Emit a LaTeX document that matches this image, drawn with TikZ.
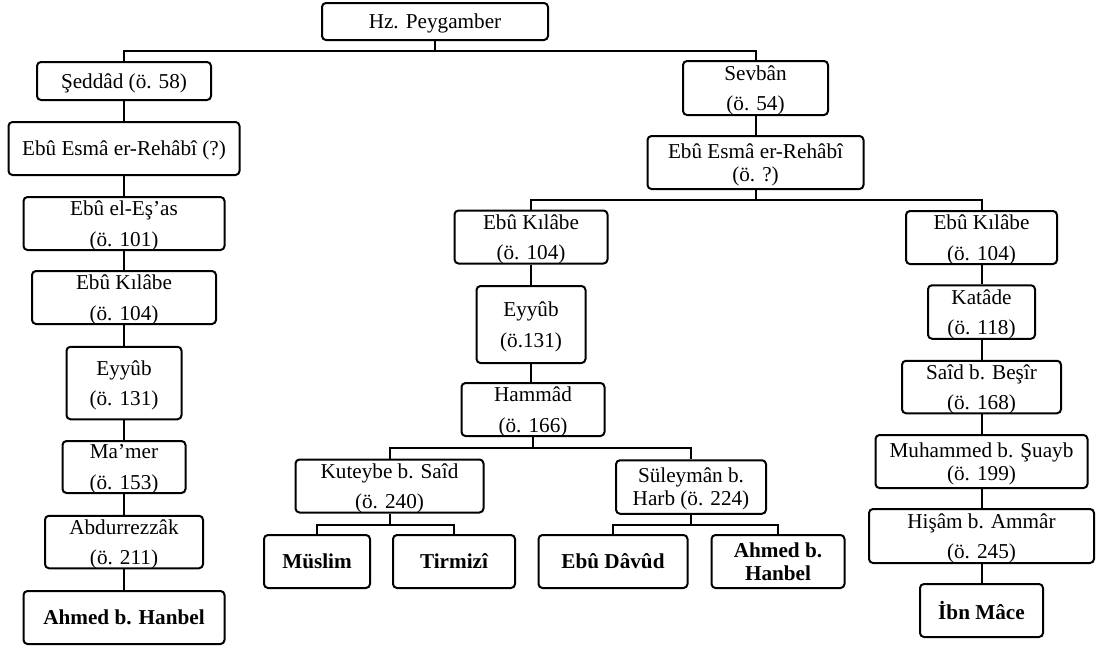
\documentclass[tikz,border=0pt]{standalone}
\usepackage{fontspec}
\setmainfont{Liberation Serif}
\tikzset{
  px/.style={x=0.75pt,y=-0.75pt},
  box/.style={draw, line width=1.5pt, rounded corners=3pt, inner sep=0pt, align=center,
              text depth=0pt, fill=white},
  loose/.style={font=\fontsize{15.9}{23}\selectfont},
  tight/.style={font=\fontsize{15.9}{17.2}\selectfont},
  heavy/.style={font=\fontsize{15.9}{17.2}\selectfont\bfseries},
  sz/.style 2 args={minimum width=#1*0.75pt, minimum height=#2*0.75pt},
  link/.style={line width=1.5pt},
}
\begin{document}
\begin{tikzpicture}[px]
\useasboundingbox (0,0) rectangle (1096,646);
% horizontal bus levels
\coordinate (busA) at (0,51);
\coordinate (busB) at (0,200);
\coordinate (busC) at (0,448);
\coordinate (busD) at (0,525);

% root
\node[box,loose,sz={226}{37}] (hz) at (435,21.5) {Hz. Peygamber};

% left chain
\node[box,loose,sz={174}{38}]   (sed)   at (124,81)    {Şeddâd (ö. 58)};
\node[box,loose,sz={231}{53}]   (esmaA) at (124,148.5) {Ebû Esmâ er-Rehâbî (?)};
\node[box,loose,sz={201}{53}]   (eshas) at (124,223.5) {Ebû el-Eş’as\\(ö. 101)};
\node[box,loose,sz={184}{53}]   (kilA)  at (124,297.5) {Ebû Kılâbe\\(ö. 104)};
\node[box,loose,sz={115}{72.5}] (eyyA)  at (124,383)   {Eyyûb\\(ö. 131)};
\node[box,loose,sz={123}{52}]   (mamer) at (124,467)   {Ma’mer\\(ö. 153)};
\node[box,loose,sz={158}{52.5}] (abd)   at (124,542)   {Abdurrezzâk\\(ö. 211)};
\node[box,heavy,sz={201}{53}]   (ahmA)  at (124,617.5) {Ahmed b. Hanbel};

% middle chain
\node[box,loose,sz={145}{54}]   (sev)     at (755.5,88)    {Sevbân\\(ö. 54)};
\node[box,tight,sz={216}{53}]   (esmaB)   at (755.5,162.5) {Ebû Esmâ er-Rehâbî\\(ö. ?)};
\node[box,loose,sz={153}{53}]   (kilB)    at (531,237)     {Ebû Kılâbe\\(ö. 104)};
\node[box,loose,sz={109}{77}]   (eyyB)    at (531,324.5)   {Eyyûb\\(ö.131)};
\node[box,loose,sz={143}{53}]   (hammad)  at (533,409.5)   {Hammâd\\(ö. 166)};
\node[box,loose,sz={188}{53}]   (kut)     at (389.5,486)   {Kuteybe b. Saîd\\(ö. 240)};
\node[box,tight,sz={150}{53.5}] (sul)     at (691,487)     {Süleymân b.\\Harb (ö. 224)};
\node[box,heavy,sz={106}{53}]   (muslim)  at (317,561.5)   {Müslim};
\node[box,heavy,sz={122}{53}]   (tirmizi) at (454,561.5)   {Tirmizî};
\node[box,heavy,sz={149}{53}]   (davud)   at (613,561.5)   {Ebû Dâvûd};
\node[box,heavy,sz={133}{53}]   (ahmB)    at (778,561.5)   {Ahmed b.\\Hanbel};

% right chain
\node[box,loose,sz={151}{53}]   (kilC)   at (981.5,237.5) {Ebû Kılâbe\\(ö. 104)};
\node[box,loose,sz={107}{53.5}] (katade) at (981.5,312)   {Katâde\\(ö. 118)};
\node[box,loose,sz={159}{52.5}] (said)   at (981.5,387)   {Saîd b. Beşîr\\(ö. 168)};
\node[box,tight,sz={212}{53}]   (muh)    at (981.5,461.5) {Muhammed b. Şuayb\\(ö. 199)};
\node[box,loose,sz={225}{54}]   (hisam)  at (981.5,536)   {Hişâm b. Ammâr\\(ö. 245)};
\node[box,heavy,sz={123}{53}]   (ibn)    at (981.5,610.5) {İbn Mâce};

% branching connectors
\draw[link] (hz.south) -- (hz.south |- busA);
\draw[link] (sed.north) |- (hz.south |- busA) -| (sev.north);
\draw[link] (esmaB.south) -- (esmaB.south |- busB);
\draw[link] (kilB.north) |- (esmaB.south |- busB) -| (kilC.north);
\draw[link] (hammad.south) -- (hammad.south |- busC);
\draw[link] (kut.north) |- (hammad.south |- busC) -| (sul.north);
\draw[link] (kut.south) -- (kut.south |- busD);
\draw[link] (muslim.north) |- (kut.south |- busD) -| (tirmizi.north);
\draw[link] (sul.south) -- (sul.south |- busD);
\draw[link] (davud.north) |- (sul.south |- busD) -| (ahmB.north);

% straight chains
\foreach \a/\b in {sed/esmaA, esmaA/eshas, eshas/kilA, kilA/eyyA, eyyA/mamer,
                   mamer/abd, abd/ahmA, sev/esmaB, kilB/eyyB, eyyB/hammad,
                   kilC/katade, katade/said, said/muh, muh/hisam, hisam/ibn}
  \draw[link] (\a.south) -- (\a.south |- \b.north);
\end{tikzpicture}
\end{document}
